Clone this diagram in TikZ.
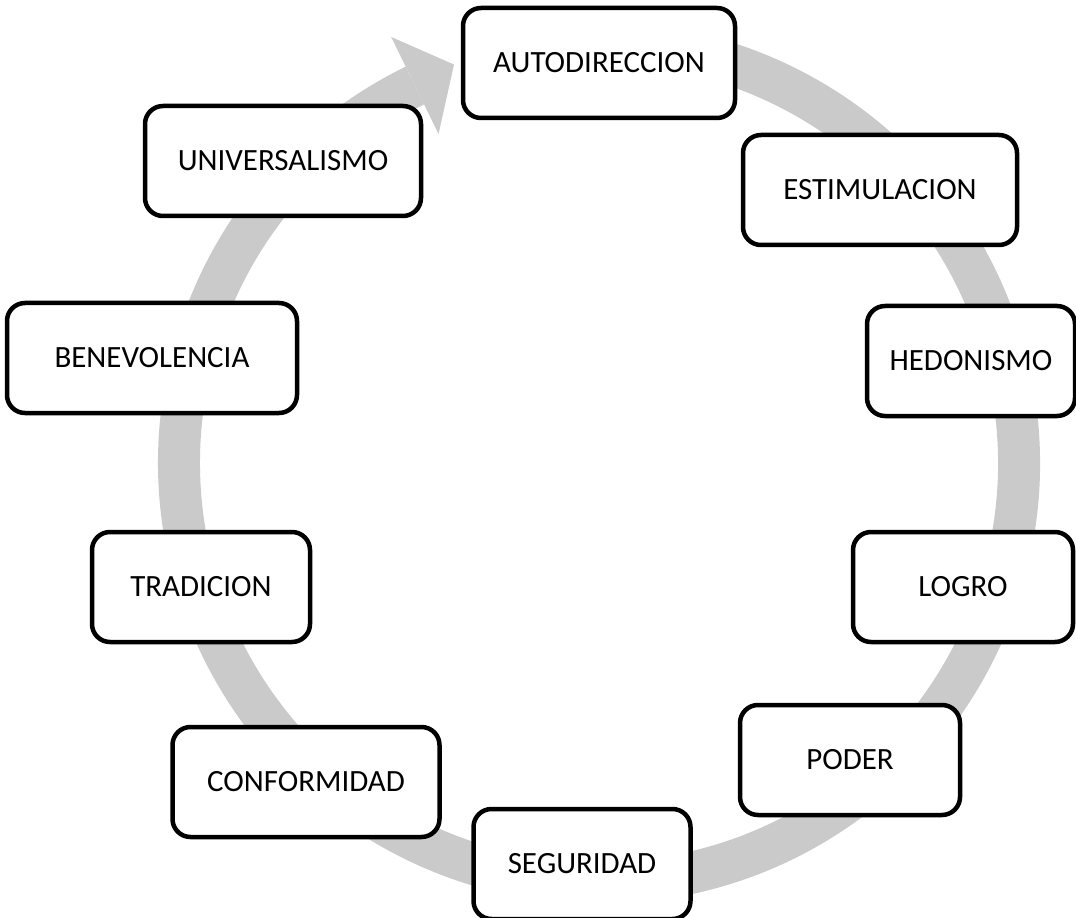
\documentclass[tikz,border=0pt]{standalone}
\usepackage{fontspec}
\setmainfont{Carlito}
\usetikzlibrary{calc}

\newcommand{\pxu}{0.025cm}

\begin{document}
\begin{tikzpicture}[x=\pxu, y=\pxu, line join=round, font=\fontsize{22}{26}\selectfont,
  valor/.style={draw=black, fill=white, line width=3.2pt, rounded corners=0.45cm,
    minimum height=110*\pxu, inner sep=0pt, align=center},
  ciclo/.style={draw=ringgray, line width=42*\pxu}]

% ---------- helpers ----------
\definecolor{ringgray}{RGB}{202,202,202}
\coordinate (C) at (599,-463);

\clip (0,0) rectangle (1076,-918);

% ---------- ring + arrow head ----------
\draw[ciclo] (C) ++(100:420) arc[start angle=100, end angle=-244, radius=420];
\fill[ringgray] ($(C)+(116:474)$) -- ($(C)+(110:424)$) -- ($(C)+(116:366)$) -- cycle;

% ---------- values ----------
\node[valor, minimum width=272*\pxu] (auto)  at (599,-63)  {AUTODIRECCION};
\node[valor, minimum width=274*\pxu] (estim) at (880,-190) {ESTIMULACION};
\node[valor, minimum width=208*\pxu] (hedon) at (971,-361) {HEDONISMO};
\node[valor, minimum width=220*\pxu] (logro) at (963,-587) {LOGRO};
\node[valor, minimum width=220*\pxu] (poder) at (850,-760) {PODER};
\node[valor, minimum width=217*\pxu] (segur) at (582,-864) {SEGURIDAD};
\node[valor, minimum width=267*\pxu] (confo) at (306,-782) {CONFORMIDAD};
\node[valor, minimum width=218*\pxu] (tradi) at (201,-587) {TRADICION};
\node[valor, minimum width=290*\pxu] (benev) at (152,-358) {BENEVOLENCIA};
\node[valor, minimum width=276*\pxu] (unive) at (283,-161) {UNIVERSALISMO};

\end{tikzpicture}
\end{document}
